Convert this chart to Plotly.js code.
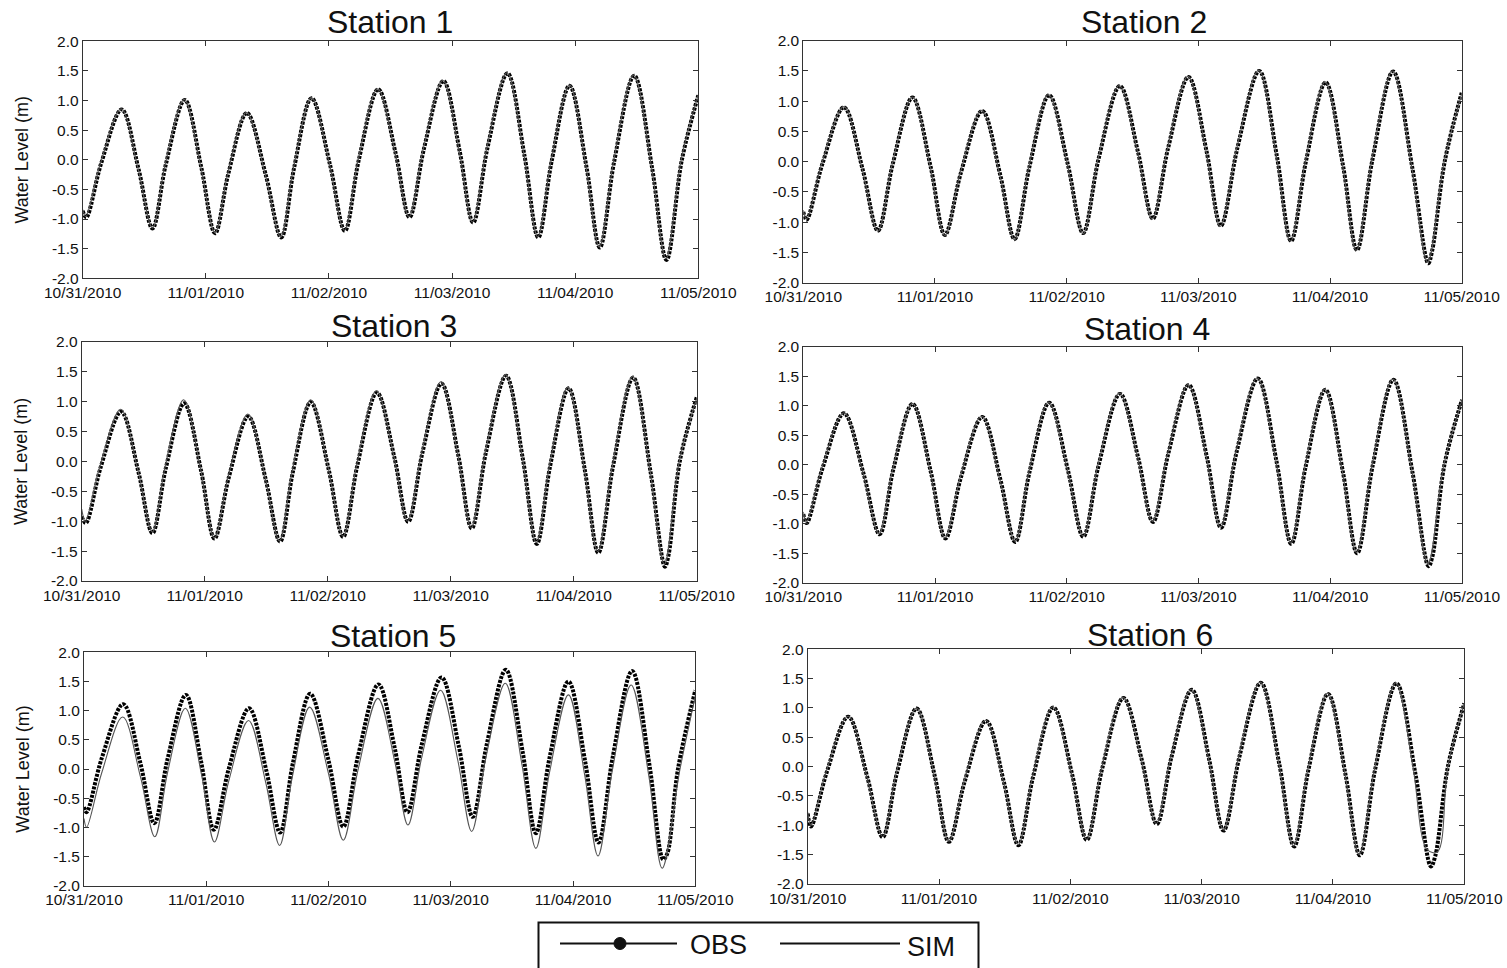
<!DOCTYPE html>
<html>
<head>
<meta charset="utf-8">
<script src="https://cdn.plot.ly/plotly-3.0.1.min.js"></script>
<style>
html,body{margin:0;padding:0;background:#fff;}
#chart{width:1507px;height:968px;}
</style>
</head>
<body>
<div id="chart"></div>
<script>
// ---------------- DATA (hours since 10/31/2010 00:00, water level in m) ----------------
const stationNames = ["Station 1", "Station 2", "Station 3", "Station 4", "Station 5", "Station 6"];
const dayTickHours = [0, 24, 48, 72, 96, 120];
const dayTickLabels = ["10/31/2010", "11/01/2010", "11/02/2010", "11/03/2010", "11/04/2010", "11/05/2010"];
const levelTickValues = [-2, -1.5, -1, -0.5, 0, 0.5, 1, 1.5, 2];
const levelTickLabels = ["-2.0", "-1.5", "-1.0", "-0.5", "0.0", "0.5", "1.0", "1.5", "2.0"];
const seriesNames = ["OBS", "SIM"];
const yTitle = "Water Level (m)";

const s1ObsHours = [0, 0.7, 3.6, 7.6, 10.9, 13.6, 16.2, 19.9, 23.1, 25.8, 28.4, 32.0, 35.7, 38.7, 41.2, 44.6, 48.2, 51.1, 53.8, 57.6, 61.0, 63.7, 66.5, 70.3, 73.5, 76.1, 78.9, 82.8, 86.1, 88.8, 91.4, 94.9, 98.2, 100.8, 103.6, 107.5, 111.0, 113.8, 116.8, 120];
const s1ObsLevel = [-0.86, -0.97, -0.06, 0.85, -0.16, -1.16, -0.08, 1.01, -0.12, -1.24, -0.23, 0.79, -0.26, -1.31, -0.14, 1.04, -0.08, -1.20, -0.01, 1.19, 0.11, -0.97, 0.18, 1.33, 0.14, -1.06, 0.20, 1.46, 0.08, -1.31, -0.03, 1.25, -0.12, -1.48, -0.03, 1.42, -0.14, -1.69, 0.0, 1.09];
const s1SimHours = [0, 0.6, 3.5, 7.5, 10.8, 13.6, 16.1, 19.8, 23.0, 25.8, 28.3, 31.9, 35.6, 38.6, 41.1, 44.6, 48.1, 51.0, 53.7, 57.5, 60.9, 63.6, 66.4, 70.2, 73.4, 76.0, 78.8, 82.7, 86.0, 88.7, 91.3, 94.9, 98.1, 100.7, 103.5, 107.4, 110.9, 113.7, 116.7, 120];
const s1SimLevel = [-0.84, -0.96, -0.05, 0.86, -0.15, -1.15, -0.07, 1.02, -0.11, -1.23, -0.22, 0.80, -0.25, -1.30, -0.13, 1.05, -0.07, -1.19, 0.0, 1.20, 0.12, -0.96, 0.19, 1.34, 0.15, -1.05, 0.21, 1.47, 0.09, -1.30, -0.02, 1.26, -0.11, -1.47, -0.02, 1.43, -0.13, -1.67, 0.02, 1.10];

const s2ObsHours = [0, 0.6, 3.5, 7.4, 10.8, 13.6, 16.3, 19.9, 23.2, 25.8, 28.7, 32.6, 35.9, 38.5, 41.2, 44.8, 48.2, 51.0, 53.8, 57.7, 61.0, 63.7, 66.5, 70.2, 73.5, 76.1, 79.1, 83.1, 86.3, 88.9, 91.6, 95.2, 98.4, 100.9, 103.7, 107.5, 111.0, 113.9, 114.6, 116.9, 120];
const s2ObsLevel = [-0.83, -0.96, -0.03, 0.90, -0.12, -1.14, -0.04, 1.06, -0.08, -1.21, -0.19, 0.84, -0.22, -1.28, -0.09, 1.10, -0.04, -1.18, 0.04, 1.25, 0.16, -0.94, 0.23, 1.40, 0.17, -1.06, 0.22, 1.50, 0.10, -1.31, 0.0, 1.31, -0.08, -1.46, 0.02, 1.49, -0.10, -1.68, -1.48, 0.0, 1.14];
const s2SimHours = [0, 0.6, 3.4, 7.4, 10.7, 13.6, 16.2, 19.9, 23.1, 25.8, 28.6, 32.5, 35.8, 38.5, 41.1, 44.7, 48.1, 51.0, 53.7, 57.6, 60.9, 63.6, 66.4, 70.1, 73.4, 76.0, 79.0, 83.0, 86.2, 88.8, 91.5, 95.1, 98.3, 100.8, 103.6, 107.4, 110.9, 113.8, 116.8, 120];
const s2SimLevel = [-0.80, -0.95, -0.02, 0.91, -0.11, -1.15, -0.04, 1.07, -0.07, -1.22, -0.19, 0.85, -0.21, -1.29, -0.09, 1.11, -0.03, -1.19, 0.04, 1.26, 0.17, -0.95, 0.23, 1.41, 0.18, -1.07, 0.22, 1.51, 0.11, -1.32, 0.0, 1.32, -0.07, -1.47, 0.02, 1.50, -0.09, -1.66, 0.0, 1.12];

const s3ObsHours = [0, 0.8, 3.7, 7.7, 11.1, 13.8, 16.4, 20.0, 23.3, 25.9, 28.7, 32.5, 35.9, 38.7, 41.2, 44.7, 48.2, 51.0, 53.8, 57.6, 61.0, 63.7, 66.5, 70.2, 73.5, 76.1, 78.9, 82.8, 86.1, 88.8, 91.4, 95.0, 98.2, 100.8, 103.7, 107.6, 111.0, 113.8, 114.5, 116.7, 120];
const s3ObsLevel = [-0.92, -1.03, -0.10, 0.83, -0.19, -1.20, -0.12, 0.97, -0.16, -1.29, -0.27, 0.75, -0.30, -1.34, -0.18, 0.99, -0.14, -1.26, -0.06, 1.15, 0.07, -1.01, 0.15, 1.30, 0.09, -1.12, 0.16, 1.43, 0.03, -1.38, -0.08, 1.22, -0.16, -1.53, -0.07, 1.40, -0.18, -1.76, -1.57, 0.0, 1.07];
const s3SimHours = [0, 0.7, 3.6, 7.6, 11.0, 13.8, 16.3, 19.9, 23.2, 25.9, 28.6, 32.4, 35.8, 38.6, 41.1, 44.7, 48.1, 51.0, 53.7, 57.5, 60.9, 63.6, 66.4, 70.1, 73.4, 76.0, 78.8, 82.7, 86.0, 88.7, 91.3, 94.9, 98.1, 100.7, 103.6, 107.5, 110.9, 113.7, 116.6, 120];
const s3SimLevel = [-0.80, -1.00, -0.07, 0.87, -0.16, -1.18, -0.08, 1.03, -0.13, -1.28, -0.25, 0.79, -0.27, -1.33, -0.15, 1.03, -0.11, -1.25, -0.04, 1.18, 0.09, -1.00, 0.17, 1.33, 0.11, -1.11, 0.17, 1.45, 0.05, -1.36, -0.06, 1.24, -0.14, -1.51, -0.05, 1.42, -0.15, -1.72, 0.0, 1.05];

const s4ObsHours = [0, 0.6, 3.5, 7.4, 11.0, 13.9, 16.4, 19.9, 23.2, 25.9, 28.7, 32.6, 35.9, 38.6, 41.2, 44.8, 48.2, 51.0, 53.8, 57.7, 61.0, 63.7, 66.5, 70.2, 73.5, 76.1, 78.9, 82.8, 86.2, 88.9, 91.5, 95.1, 98.3, 100.9, 103.7, 107.5, 111.0, 113.9, 114.6, 116.8, 120];
const s4ObsLevel = [-0.84, -0.99, -0.06, 0.87, -0.16, -1.18, -0.08, 1.03, -0.11, -1.25, -0.22, 0.81, -0.25, -1.31, -0.13, 1.05, -0.09, -1.22, -0.01, 1.20, 0.12, -0.97, 0.19, 1.35, 0.14, -1.07, 0.20, 1.46, 0.06, -1.34, -0.04, 1.27, -0.12, -1.50, -0.03, 1.44, -0.14, -1.72, -1.56, 0.0, 1.10];
const s4SimHours = [0, 0.6, 3.4, 7.4, 10.9, 13.8, 16.3, 19.9, 23.1, 25.8, 28.6, 32.5, 35.8, 38.6, 41.1, 44.7, 48.1, 51.0, 53.7, 57.6, 60.9, 63.6, 66.4, 70.1, 73.4, 76.0, 78.8, 82.7, 86.1, 88.8, 91.4, 95.0, 98.2, 100.8, 103.6, 107.4, 110.9, 113.8, 116.7, 120];
const s4SimLevel = [-0.80, -0.97, -0.05, 0.88, -0.15, -1.17, -0.07, 1.04, -0.10, -1.24, -0.21, 0.82, -0.24, -1.30, -0.12, 1.06, -0.08, -1.21, 0.0, 1.21, 0.13, -0.96, 0.20, 1.36, 0.15, -1.06, 0.21, 1.47, 0.07, -1.33, -0.03, 1.28, -0.11, -1.49, -0.02, 1.45, -0.12, -1.68, 0.0, 1.09];

const s5ObsHours = [0, 0.5, 3.5, 7.7, 11.1, 13.8, 16.4, 20.0, 23.0, 25.5, 28.4, 32.4, 35.8, 38.5, 41.0, 44.4, 48.0, 50.9, 53.8, 57.8, 61.0, 63.5, 66.3, 70.2, 73.6, 76.3, 79.1, 82.8, 86.1, 88.7, 91.4, 95.1, 98.4, 101.0, 103.8, 107.6, 111.0, 113.7, 114.5, 116.6, 120];
const s5ObsLevel = [-0.65, -0.74, 0.19, 1.11, 0.09, -0.93, 0.17, 1.27, 0.12, -1.04, 0.0, 1.04, -0.03, -1.09, 0.10, 1.29, 0.15, -0.99, 0.23, 1.45, 0.36, -0.74, 0.42, 1.57, 0.38, -0.82, 0.44, 1.70, 0.30, -1.10, 0.20, 1.50, 0.12, -1.26, 0.21, 1.68, 0.07, -1.55, -1.45, 0.0, 1.35];
const s5SimHours = [0, 0.5, 3.5, 7.6, 11.1, 13.9, 16.4, 19.9, 23.1, 25.6, 28.4, 32.3, 35.7, 38.4, 40.9, 44.3, 48.0, 50.9, 53.8, 57.7, 61.0, 63.6, 66.3, 70.0, 73.4, 76.1, 78.9, 82.7, 86.0, 88.7, 91.4, 95.1, 98.3, 100.9, 103.7, 107.4, 110.9, 113.5, 117.0, 120];
const s5SimLevel = [-0.85, -1.00, -0.06, 0.89, -0.14, -1.16, -0.06, 1.04, -0.11, -1.25, -0.21, 0.83, -0.24, -1.31, -0.13, 1.06, -0.08, -1.22, -0.01, 1.21, 0.13, -0.96, 0.20, 1.35, 0.14, -1.07, 0.20, 1.47, 0.06, -1.36, -0.05, 1.27, -0.11, -1.49, -0.03, 1.44, -0.13, -1.70, 0.0, 1.25];

const s6ObsHours = [0, 0.6, 3.5, 7.4, 10.9, 13.7, 16.3, 19.9, 23.2, 25.8, 28.7, 32.6, 35.9, 38.5, 41.2, 44.9, 48.3, 51.0, 53.8, 57.7, 61.1, 63.8, 66.5, 70.2, 73.4, 76.0, 78.9, 82.8, 86.2, 88.9, 91.5, 95.1, 98.3, 100.9, 103.7, 107.6, 111.1, 113.9, 114.7, 117.0, 120];
const s6ObsLevel = [-0.80, -1.02, -0.09, 0.85, -0.18, -1.20, -0.11, 0.99, -0.15, -1.28, -0.25, 0.78, -0.28, -1.34, -0.17, 1.01, -0.12, -1.25, -0.04, 1.17, 0.10, -0.98, 0.17, 1.31, 0.11, -1.09, 0.17, 1.43, 0.04, -1.36, -0.06, 1.24, -0.14, -1.51, -0.05, 1.42, -0.14, -1.70, -1.52, 0.0, 1.08];
const s6SimHours = [0, 0.6, 3.4, 7.4, 10.8, 13.7, 16.2, 19.9, 23.1, 25.8, 28.6, 32.5, 35.8, 38.5, 41.1, 44.8, 48.2, 51.0, 53.7, 57.6, 61.0, 63.7, 66.4, 70.1, 73.3, 76.0, 78.8, 82.7, 86.1, 88.8, 91.4, 95.0, 98.2, 100.8, 103.6, 107.5, 110.6, 113.2, 115.1, 117.0, 120];
const s6SimLevel = [-0.78, -1.00, -0.08, 0.86, -0.17, -1.19, -0.10, 1.00, -0.14, -1.27, -0.24, 0.79, -0.27, -1.33, -0.16, 1.02, -0.11, -1.24, -0.03, 1.18, 0.11, -0.97, 0.18, 1.32, 0.12, -1.08, 0.18, 1.44, 0.05, -1.35, -0.05, 1.25, -0.13, -1.50, -0.04, 1.43, 0.01, -1.41, -1.45, 0.0, 1.08];

// ---------------- LAYOUT GEOMETRY (pixels) ----------------
const W = 1507, H = 968;
const panelPx = [ // [left, right, top, bottom]
  [82.7, 698.3, 41.3, 278.3],
  [803.3, 1461.7, 40.7, 282.7],
  [81.7, 696.7, 341.7, 581.0],
  [803.3, 1462.0, 346.7, 582.7],
  [84.0, 695.3, 652.3, 885.7],
  [807.7, 1464.3, 649.3, 884.0]
];
const titlePx = [[389.5, 22], [1143.5, 22], [394, 326], [1146.5, 329], [392.5, 636], [1150, 635]];

const px = x => x / W;
const py = y => 1 - y / H;

const stationData = [
  [s1ObsHours, s1ObsLevel, s1SimHours, s1SimLevel],
  [s2ObsHours, s2ObsLevel, s2SimHours, s2SimLevel],
  [s3ObsHours, s3ObsLevel, s3SimHours, s3SimLevel],
  [s4ObsHours, s4ObsLevel, s4SimHours, s4SimLevel],
  [s5ObsHours, s5ObsLevel, s5SimHours, s5SimLevel],
  [s6ObsHours, s6ObsLevel, s6SimHours, s6SimLevel]
];

const FONT = "Liberation Sans, Arial, Helvetica, sans-serif";
const traces = [];
const layout = {
  width: W, height: H,
  margin: {l: 0, r: 0, t: 0, b: 0},
  paper_bgcolor: "#ffffff",
  plot_bgcolor: "#ffffff",
  showlegend: false,
  font: {family: FONT, color: "#111"},
  annotations: [],
  shapes: []
};

stationData.forEach((d, i) => {
  const n = i + 1;
  const xa = n === 1 ? "x" : "x" + n;
  const ya = n === 1 ? "y" : "y" + n;
  traces.push({
    type: "scatter", mode: "lines", name: seriesNames[0],
    x: d[0], y: d[1], xaxis: xa, yaxis: ya,
    line: {shape: "spline", smoothing: 1, width: 4, color: "#000", dash: "3px,1.3px"},
    hoverinfo: "skip"
  });
  traces.push({
    type: "scatter", mode: "lines", name: seriesNames[1],
    x: d[2], y: d[3], xaxis: xa, yaxis: ya,
    line: {shape: "spline", smoothing: 1, width: 1.1, color: "#555"},
    hoverinfo: "skip"
  });
  const b = panelPx[i];
  const common = {
    showline: true, linecolor: "#333", linewidth: 1, mirror: "allticks",
    ticks: "inside", ticklen: 5, tickwidth: 1, tickcolor: "#333",
    showgrid: false, zeroline: false, fixedrange: true,
    tickfont: {family: FONT, size: 15.5, color: "#111"}
  };
  layout["xaxis" + (n === 1 ? "" : n)] = Object.assign({}, common, {
    domain: [px(b[0]), px(b[1])], anchor: ya,
    range: [dayTickHours[0], dayTickHours[dayTickHours.length - 1]],
    tickmode: "array", tickvals: dayTickHours, ticktext: dayTickLabels
  });
  const yax = Object.assign({}, common, {
    domain: [py(b[3]), py(b[2])], anchor: xa,
    range: [-2, 2],
    tickmode: "array", tickvals: levelTickValues, ticktext: levelTickLabels
  });
  if (n % 2 === 1) {
    yax.title = {text: yTitle, font: {family: FONT, size: 18, color: "#111"}, standoff: 18};
  }
  layout["yaxis" + (n === 1 ? "" : n)] = yax;
  layout.annotations.push({
    text: stationNames[i], xref: "paper", yref: "paper",
    x: px(titlePx[i][0]), y: py(titlePx[i][1]),
    xanchor: "center", yanchor: "middle", showarrow: false,
    font: {family: FONT, size: 32, color: "#111"}
  });
});

// ---------------- LEGEND (drawn box) ----------------
const legendBox = {left: 538.5, right: 978.5, top: 922.5};
layout.shapes.push({
  type: "rect", xref: "paper", yref: "paper",
  x0: px(legendBox.left), x1: px(legendBox.right), y0: py(legendBox.top), y1: py(H + 20),
  line: {color: "#111", width: 2}, fillcolor: "rgba(0,0,0,0)"
});
layout.shapes.push({
  type: "line", xref: "paper", yref: "paper",
  x0: px(560), x1: px(677), y0: py(943.5), y1: py(943.5),
  line: {color: "#111", width: 2}
});
layout.shapes.push({
  type: "circle", xref: "paper", yref: "paper",
  x0: px(614), x1: px(626), y0: py(937.5), y1: py(949.5),
  line: {color: "#111", width: 1}, fillcolor: "#111"
});
layout.shapes.push({
  type: "line", xref: "paper", yref: "paper",
  x0: px(780), x1: px(900), y0: py(943.5), y1: py(943.5),
  line: {color: "#111", width: 2}
});
layout.annotations.push({
  text: seriesNames[0], xref: "paper", yref: "paper",
  x: px(688), y: py(945), xanchor: "left", yanchor: "middle", showarrow: false,
  font: {family: FONT, size: 27, color: "#111"}
});
layout.annotations.push({
  text: seriesNames[1], xref: "paper", yref: "paper",
  x: px(905), y: py(947), xanchor: "left", yanchor: "middle", showarrow: false,
  font: {family: FONT, size: 27, color: "#111"}
});

Plotly.newPlot("chart", traces, layout, {staticPlot: true, displayModeBar: false});
</script>
</body>
</html>
